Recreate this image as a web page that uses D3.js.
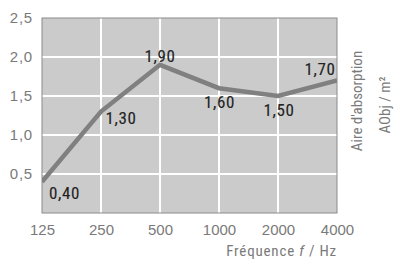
<!DOCTYPE html>
<html><head><meta charset="utf-8">
<script src="https://cdn.jsdelivr.net/npm/d3@7"></script>
<style>
html,body{margin:0;padding:0;background:#fff;}
text{font-family:"Liberation Sans Narrow","Arial Narrow","Roboto Condensed",sans-serif;}
</style></head><body>
<svg id="c" width="396" height="261"></svg>
<script>
const freqs = ["125","250","500","1000","2000","4000"];
const values = [0.40, 1.30, 1.90, 1.60, 1.50, 1.70];
const labels = ["0,40","1,30","1,90","1,60","1,50","1,70"];
const yTicks = [0.5, 1.0, 1.5, 2.0, 2.5];
const yTickLabels = ["0,5","1,0","1,5","2,0","2,5"];

const FONT = '"Liberation Sans Narrow","Arial Narrow",sans-serif';
const svg = d3.select("#c");
const L = 42, R = 337, T = 18, B = 213;
const x = d3.scalePoint().domain(freqs).range([L, R]);
const y = d3.scaleLinear().domain([0, 2.5]).range([B, T]);

svg.append("rect").attr("x", L).attr("y", T).attr("width", R - L).attr("height", B - T).attr("fill", "#cbcbcb");

// grid
svg.append("g").selectAll("line").data(freqs.slice(1, -1)).join("line")
  .attr("x1", d => x(d)).attr("x2", d => x(d)).attr("y1", T).attr("y2", B)
  .attr("stroke", "#fff").attr("stroke-width", 2);
svg.append("g").selectAll("line").data(yTicks.slice(0, -1)).join("line")
  .attr("x1", L).attr("x2", R).attr("y1", d => y(d)).attr("y2", d => y(d))
  .attr("stroke", "#fff").attr("stroke-width", 2);

// frame
svg.append("rect").attr("x", L).attr("y", T).attr("width", R - L).attr("height", B - T)
  .attr("fill", "none").attr("stroke", "#8a8a8a").attr("stroke-width", 1);

// axes tick labels
const xa = svg.append("g").attr("transform", `translate(0,${B})`)
  .call(d3.axisBottom(x).tickSize(0).tickPadding(11));
xa.select(".domain").remove();
xa.selectAll("text").attr("font-size", 15).attr("fill", "#7a7a7a").style("font-family", FONT);

const ya = svg.append("g").attr("transform", `translate(${L},0)`)
  .call(d3.axisLeft(y).tickValues(yTicks).tickFormat((d, i) => yTickLabels[i]).tickSize(0).tickPadding(9));
ya.select(".domain").remove();
ya.selectAll("text").attr("font-size", 15).attr("fill", "#7a7a7a").style("font-family", FONT)
  .attr("letter-spacing", 0.8);

// line
const line = d3.line().x((d, i) => x(freqs[i])).y(d => y(d));
svg.append("defs").append("clipPath").attr("id", "cp").append("rect")
  .attr("x", L).attr("y", T).attr("width", R - L).attr("height", B - T);
svg.append("path").datum(values).attr("d", line).attr("fill", "none")
  .attr("stroke", "#808080").attr("stroke-width", 4.5).attr("clip-path", "url(#cp)");

// data labels
const offs = [[22.5, 17], [20, 12.5], [0, -3], [0.5, 20], [1, 20], [-17, -5.5]];
svg.append("g").selectAll("text").data(values).join("text")
  .attr("x", (d, i) => x(freqs[i]) + offs[i][0])
  .attr("y", (d, i) => y(d) + offs[i][1])
  .attr("text-anchor", "middle").attr("font-size", 17).attr("letter-spacing", 0.6)
  .attr("fill", "#222").attr("stroke", "#222").attr("stroke-width", 0.12)
  .text((d, i) => labels[i]);

// axis titles
const xt = svg.append("text").attr("x", R).attr("y", 256).attr("text-anchor", "end")
  .attr("font-size", 15).attr("letter-spacing", 0.8).attr("fill", "#7a7a7a");
xt.append("tspan").text("Fréquence ");
xt.append("tspan").attr("font-style", "italic").text("f");
xt.append("tspan").text(" / Hz");

svg.append("text").attr("transform", "translate(362,101) rotate(-90)").attr("text-anchor", "middle")
  .attr("font-size", 15).attr("fill", "#7a7a7a").text("Aire d'absorption");
svg.append("text").attr("transform", "translate(390,105) rotate(-90)").attr("text-anchor", "middle")
  .attr("font-size", 15).attr("fill", "#7a7a7a").text("AObj / m²");
</script></body></html>
